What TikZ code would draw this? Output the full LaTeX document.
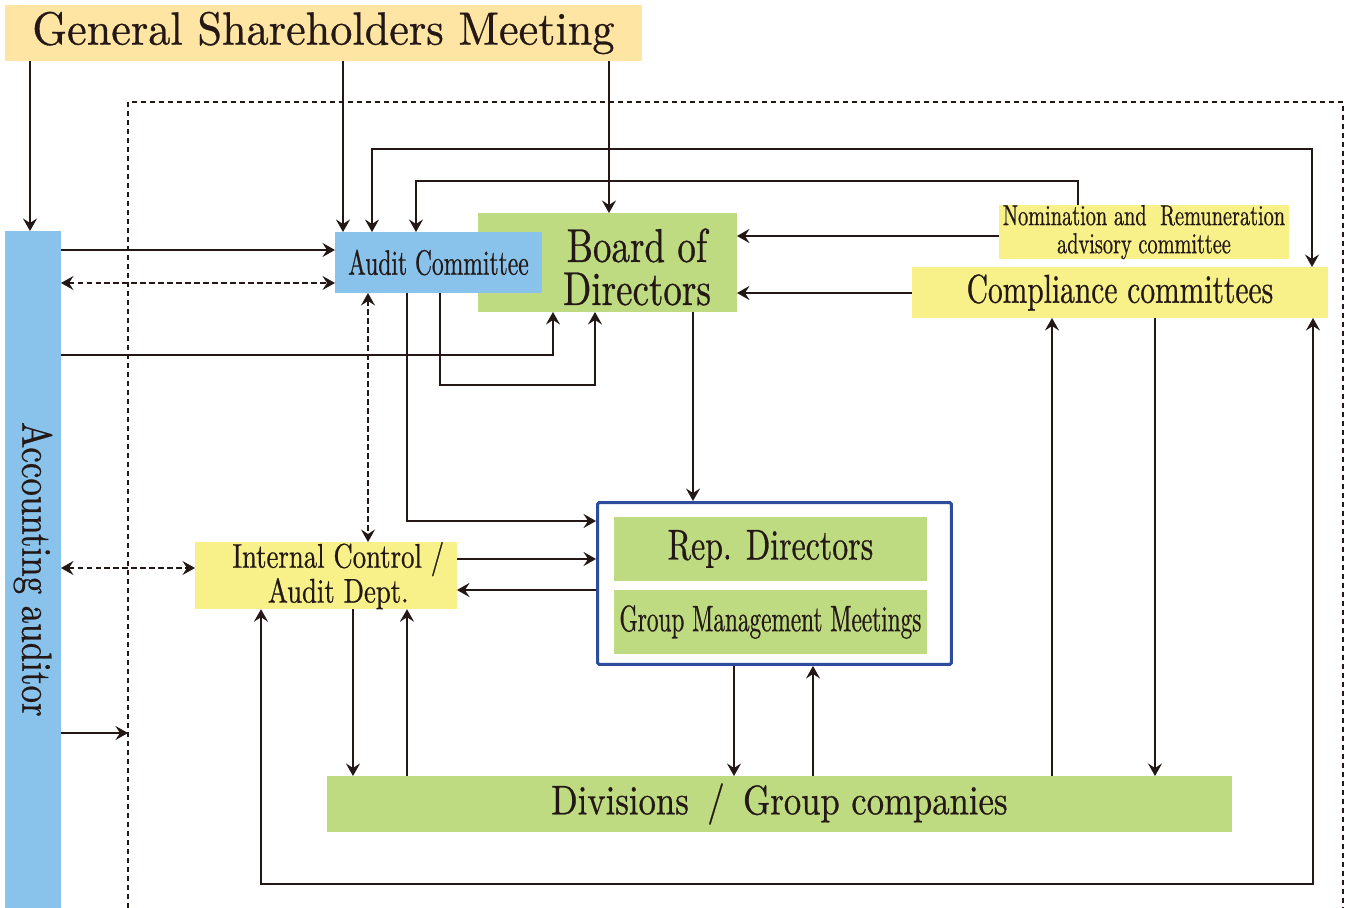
\documentclass[tikz,border=0pt]{standalone}
\usepackage{fontspec}
\usepackage{graphicx}
\usetikzlibrary{arrows.meta}

\definecolor{ink}{RGB}{35,24,21}
\definecolor{meetingfill}{RGB}{254,229,164}
\definecolor{skyfill}{RGB}{137,195,235}
\definecolor{leaffill}{RGB}{191,219,130}
\definecolor{lemonfill}{RGB}{248,241,138}
\definecolor{execblue}{RGB}{46,76,158}

% narrow serif, squeezed sideways
\newcommand\narrow[1]{\fontspec{lmroman10-regular.otf}[FakeStretch=#1,FakeBold=0.6]}

\begin{document}
\begin{tikzpicture}[x=0.02cm, y=-0.02cm, color=ink, line width=1.1pt,
  >={Stealth[length=0.25cm,width=0.28cm,inset=0.09cm]},
  box/.style={rectangle, inner sep=0pt, outer sep=0pt, align=center, anchor=north west},
  txt/.style n args={3}{font=\narrow{#1}\fontsize{#2}{#3}\selectfont},
  dashed link/.style={line width=0.8pt, dash pattern=on 0.11cm off 0.07cm},
  fence/.style={line width=0.8pt, dash pattern=on 0.1cm off 0.08cm}]
  \useasboundingbox (0,0) rectangle (1352,908);

  % company boundary
  \draw[fence] (128,908) -- (128,102) -- (1343,102) -- (1343,908);
  \coordinate (fence) at (128,733);

  \node[box, fill=meetingfill, minimum width=12.74cm, minimum height=1.12cm, txt={0.95}{26.5}{30}] (gsm) at (5,5) {\raisebox{-2pt}{General\ Shareholders\ Meeting}};
  \node[box, fill=skyfill, minimum width=1.12cm, minimum height=13.54cm, txt={0.83}{24}{27}] (acct) at (5,231) {\rotatebox{-90}{Accounting auditor}};

  \node[box, fill=leaffill, minimum width=5.18cm, minimum height=1.98cm] (board) at (478,213) {};
  \node[txt={0.78}{27}{24.5}, align=center, inner sep=0pt] (boardtext) at (637,267) {Board of\\Directors};
  \node[box, fill=skyfill, minimum width=4.14cm, minimum height=1.22cm, txt={0.67}{20}{20}] (audit) at (335,232) {Audit Committee};

  \node[box, fill=lemonfill, minimum width=5.8cm, minimum height=1.02cm, txt={0.7}{16.5}{16}] (nom) at (999,205) {Nomination and\ \ Remuneration\\advisory committee};
  \node[box, fill=lemonfill, minimum width=8.32cm, minimum height=1.02cm, txt={0.73}{23}{24}] (comp) at (912,267) {Compliance committees};
  \node[box, fill=lemonfill, minimum width=5.24cm, minimum height=1.32cm, txt={0.78}{19.5}{18}] (ic) at (195,542) {\hspace*{14pt}Internal Control /\\\hspace*{14pt}Audit Dept.};

  \node[draw=execblue, line width=0.06cm, rounded corners=1pt, minimum width=7.08cm, minimum height=3.24cm, inner sep=0pt] (exec) at (774.5,583.5) {};
  \node[box, fill=leaffill, minimum width=6.26cm, minimum height=1.28cm, txt={0.74}{24.5}{27}] (rep) at (614,517) {Rep. Directors};
  \node[box, fill=leaffill, minimum width=6.26cm, minimum height=1.28cm, txt={0.63}{21}{23}] (gmm) at (614,590) {Group Management Meetings};

  \node[box, fill=leaffill, minimum width=18.1cm, minimum height=1.12cm, txt={0.84}{23.5}{26}] (div) at (327,776) {Divisions\ \,/\ \,Group companies};

  % from the shareholders
  \draw[->] (30,0 |- gsm.south) -- (30,0 |- acct.north);
  \draw[->] (343,0 |- gsm.south) -- (343,0 |- audit.north);
  \draw[->] (609,0 |- gsm.south) -- (609,0 |- board.north);

  % committees
  \draw[<->] (372,0 |- audit.north) -- (372,149) -- (1312,149) -- (1312,0 |- comp.north);
  \draw[->] (1078,0 |- nom.north) -- (1078,181) -- (416,181) -- (416,0 |- audit.north);
  \draw[->] (nom.west |- 0,236) -- (board.east |- 0,236);
  \draw[->] (comp.west |- 0,293) -- (board.east |- 0,293);

  % accounting auditor
  \draw[->] (acct.east |- 0,250) -- (audit.west |- 0,250);
  \draw[<->, dashed link] (acct.east |- 0,283) -- (audit.west |- 0,283);
  \draw[->] (acct.east |- 0,355) -| (553,0 |- board.south);
  \draw[<->, dashed link] (acct.east |- 0,568) -- (ic.west |- 0,568);
  \draw[->] (acct.east |- 0,733) -- (fence);

  % audit committee and board
  \draw[->] (440,0 |- audit.south) -- (440,385) -| (595,0 |- board.south);
  \draw[->] (407,0 |- audit.south) |- (exec.west |- 0,521);
  \draw[<->, dashed link] (368,0 |- audit.south) -- (368,0 |- ic.north);
  \draw[->] (693,0 |- board.south) -- (693,0 |- exec.north);

  % internal control
  \draw[->] (ic.east |- 0,559) -- (exec.west |- 0,559);
  \draw[->] (exec.west |- 0,590) -- (ic.east |- 0,590);
  \draw[->] (353,0 |- ic.south) -- (353,0 |- div.north);
  \draw[->] (407,0 |- div.north) -- (407,0 |- ic.south);
  \draw[<->] (261,0 |- ic.south) -- (261,884) -| (1313,0 |- comp.south);

  % divisions
  \draw[->] (734,0 |- exec.south) -- (734,0 |- div.north);
  \draw[->] (813,0 |- div.north) -- (813,0 |- exec.south);
  \draw[->] (1052,0 |- div.north) -- (1052,0 |- comp.south);
  \draw[->] (1155,0 |- comp.south) -- (1155,0 |- div.north);
\end{tikzpicture}
\end{document}
